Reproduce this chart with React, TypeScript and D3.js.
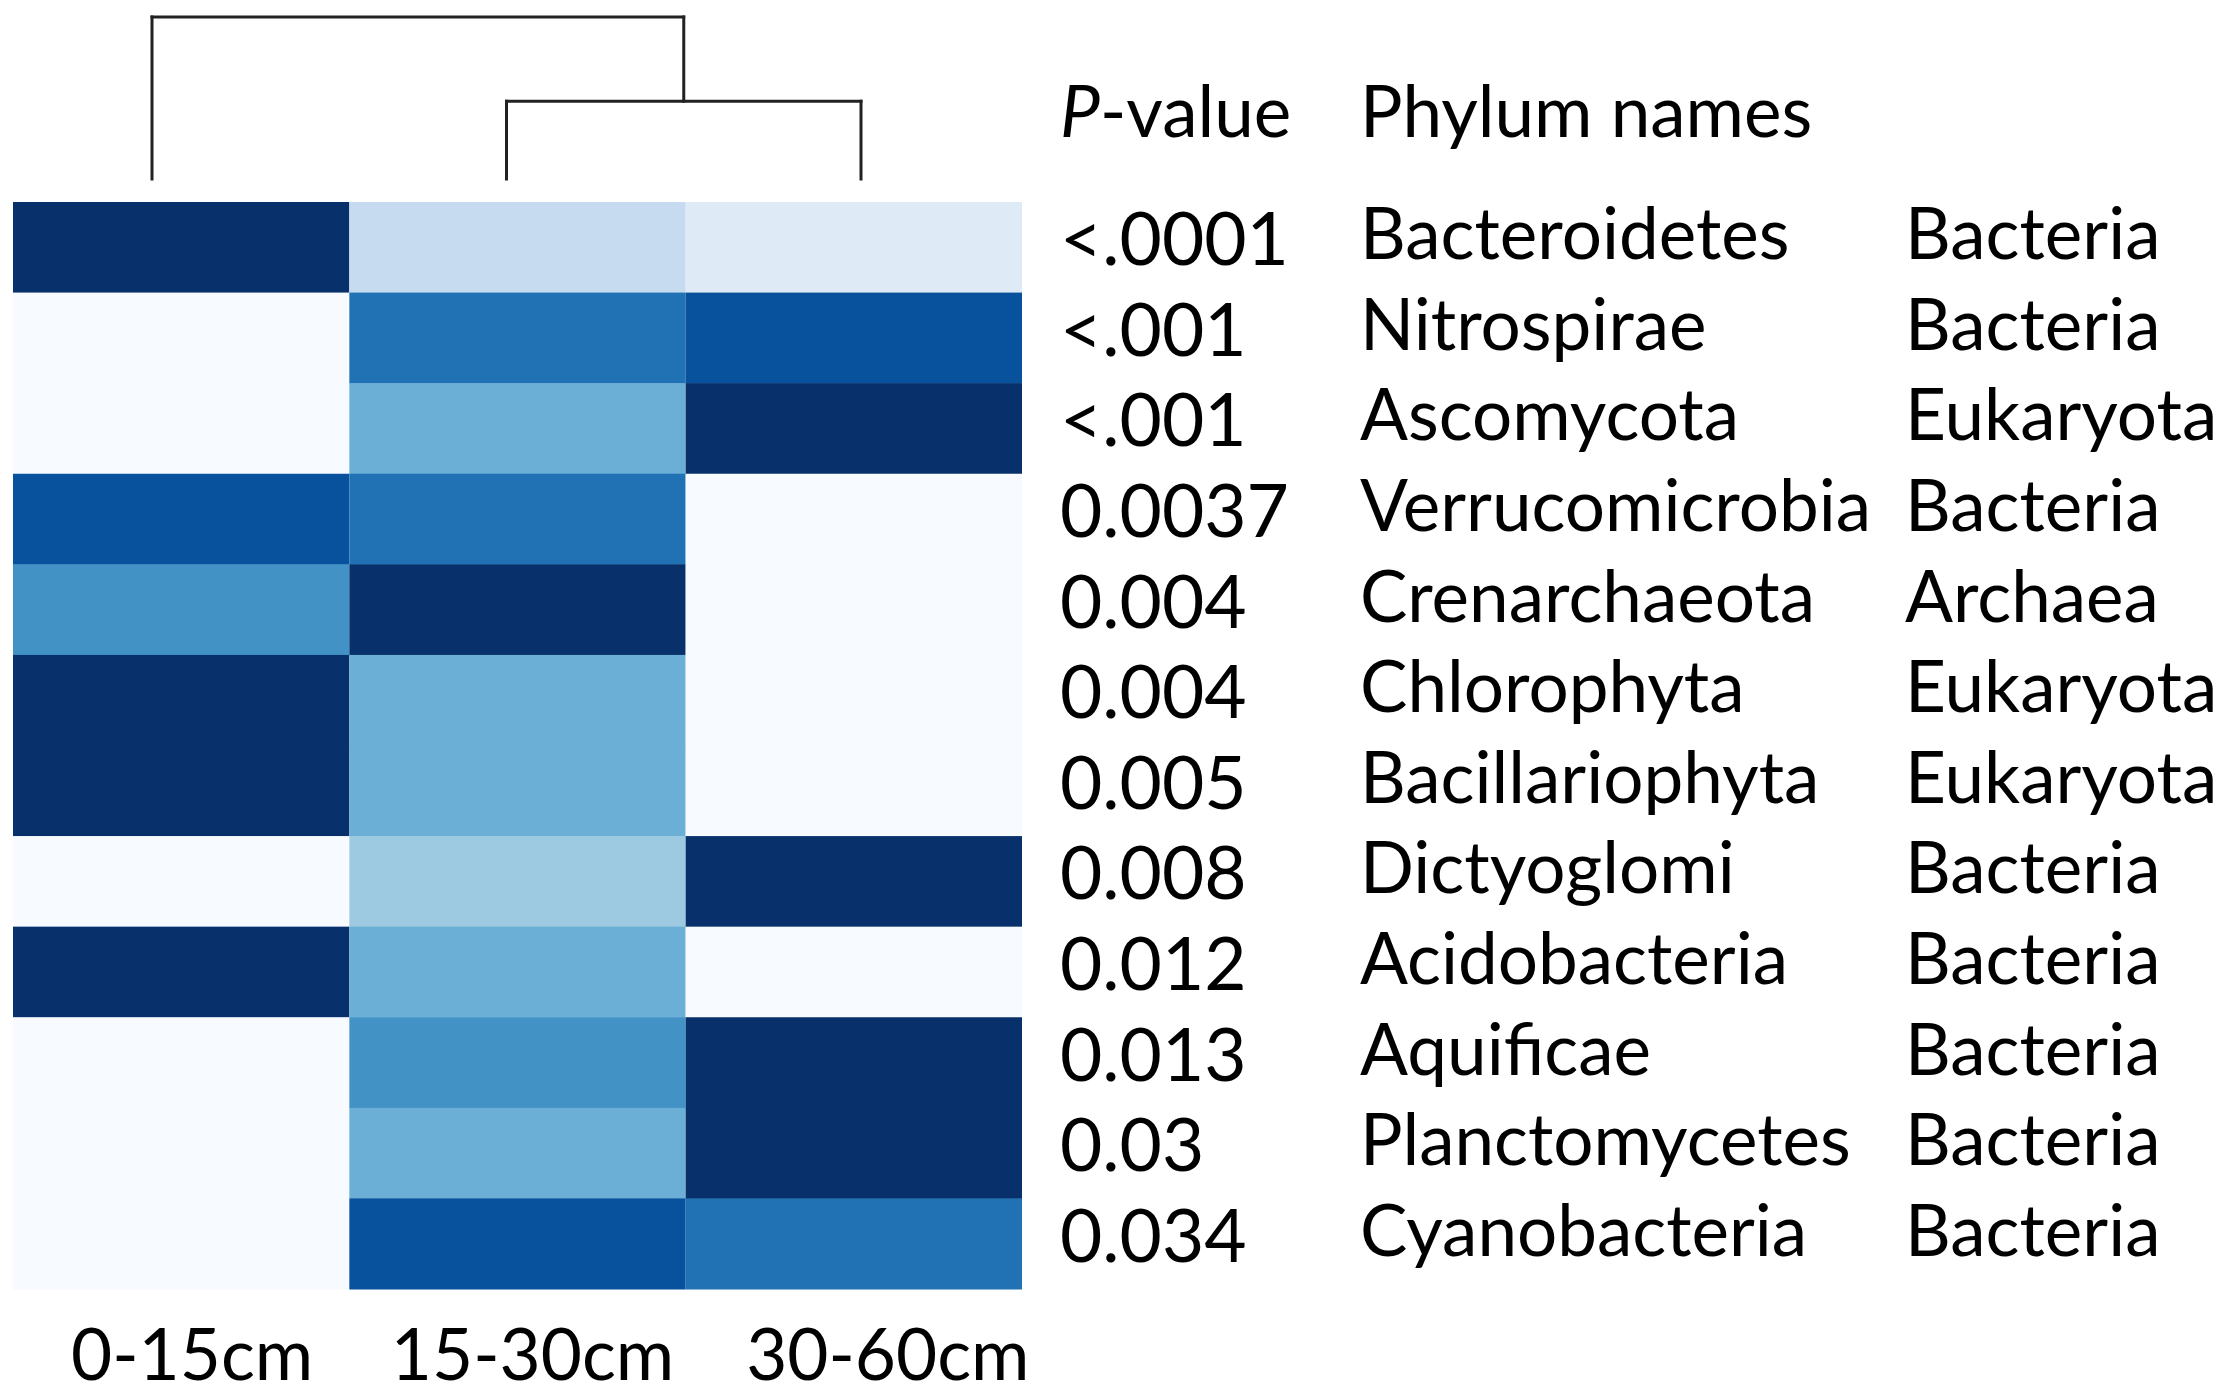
import React from 'react';
import * as d3 from 'd3';

// depth columns of the heatmap
const depths = ['0-15cm', '15-30cm', '30-60cm'];

// phylum rows, top to bottom
const phyla = [
  'Bacteroidetes', 'Nitrospirae', 'Ascomycota', 'Verrucomicrobia', 'Crenarchaeota', 'Chlorophyta',
  'Bacillariophyta', 'Dictyoglomi', 'Acidobacteria', 'Aquificae', 'Planctomycetes', 'Cyanobacteria',
];
const pValues = ['<.0001', '<.001', '<.001', '0.0037', '0.004', '0.004', '0.005', '0.008', '0.012', '0.013', '0.03', '0.034'];
const kingdoms = [
  'Bacteria', 'Bacteria', 'Eukaryota', 'Bacteria', 'Archaea', 'Eukaryota',
  'Eukaryota', 'Bacteria', 'Bacteria', 'Bacteria', 'Bacteria', 'Bacteria',
];

// colour level (0 = lightest, 8 = darkest) per depth column
const level0to15 = [8, 0, 0, 7, 5, 8, 8, 0, 8, 0, 0, 0];
const level15to30 = [2, 6, 4, 6, 8, 4, 4, 3, 4, 5, 4, 7];
const level30to60 = [1, 7, 8, 0, 0, 0, 0, 8, 0, 8, 8, 6];
const levels = [level0to15, level15to30, level30to60];

// dendrogram: (0-15cm, (15-30cm, 30-60cm)), merge heights
const innerMerge = 0.48;
const rootMerge = 1;

const W = 2228;
const H = 1400;
const FONT = 'Lato, "Open Sans", sans-serif';

const App: React.FC = () => {
  const x = d3.scaleBand<string>().domain(depths).range([13, 1022]).padding(0);
  const y = d3.scaleBand<string>().domain(phyla).range([202, 1289]).padding(0);
  const color = d3.scaleOrdinal<number, string>().domain(d3.range(9)).range(d3.schemeBlues[9]);

  const dx = d3.scalePoint<string>().domain(depths).range([152, 861]);
  const dy = d3.scaleLinear().domain([0, rootMerge]).range([179, 17]);

  const cells = phyla.flatMap((p, i) => depths.map((d, j) => ({ p, d, v: levels[j][i] })));

  const innerX = ((dx(depths[1]) as number) + (dx(depths[2]) as number)) / 2;
  const leftX = dx(depths[0]) as number;
  const links: [number, number, number, number][] = [
    // root
    [leftX, dy(rootMerge), innerX, dy(rootMerge)],
    [leftX, dy(rootMerge), leftX, dy(0)],
    [innerX, dy(rootMerge), innerX, dy(innerMerge)],
    // inner
    [dx(depths[1]) as number, dy(innerMerge), dx(depths[2]) as number, dy(innerMerge)],
    [dx(depths[1]) as number, dy(innerMerge), dx(depths[1]) as number, dy(0)],
    [dx(depths[2]) as number, dy(innerMerge), dx(depths[2]) as number, dy(0)],
  ];

  const pX = 1060;
  const nameX = 1360;
  const kingX = 1905;
  const labelDx = [11, 15, 34];

  return (
    <svg width={W} height={H} style={{ position: 'absolute', left: 0, top: 0, background: '#fff' }}
      fontFamily={FONT}>
      <rect width={W} height={H} fill="#fff" />
      <g stroke="#222" strokeWidth={3} fill="none">
        {links.map((l, i) => (
          <line key={i} x1={l[0]} y1={l[1]} x2={l[2]} y2={l[3]} strokeLinecap="square" />
        ))}
      </g>
      <g>
        {cells.map((c, i) => (
          <rect key={i} x={x(c.d)} y={y(c.p)} width={x.bandwidth()} height={y.bandwidth() + 0.5}
            fill={color(c.v)} />
        ))}
      </g>
      <g fontSize={71} fill="#000">
        <text x={pX} y={137}><tspan fontStyle="italic">P</tspan>-value</text>
        <text x={nameX} y={137}>Phylum names</text>
        {phyla.map((p, i) => {
          const cy = (y(p) as number) + y.bandwidth() / 2;
          return (
            <g key={p}>
              <text x={pX} y={cy + 18} fontSize={73}>{pValues[i]}</text>
              <text x={nameX} y={cy + 12}>{p}</text>
              <text x={kingX} y={cy + 12}>{kingdoms[i]}</text>
            </g>
          );
        })}
        {depths.map((d, i) => (
          <text key={d} x={(x(d) as number) + x.bandwidth() / 2 + labelDx[i]} y={1380}
            textAnchor="middle">{d}</text>
        ))}
      </g>
    </svg>
  );
};

export default App;
